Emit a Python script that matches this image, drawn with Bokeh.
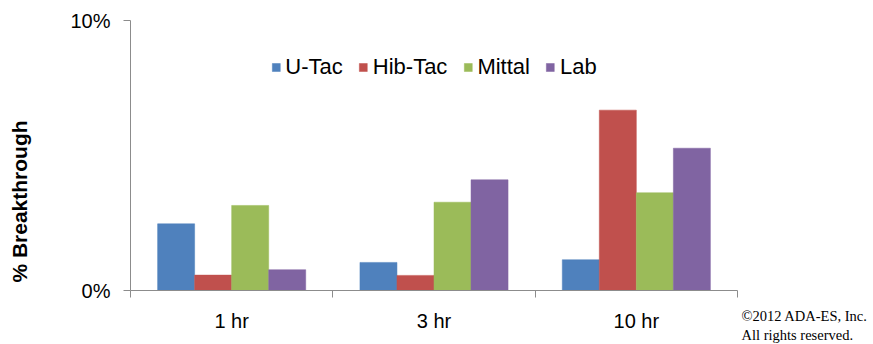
import math
from bokeh.plotting import figure
from bokeh.models import Range1d, FixedTicker, Label, ColumnDataSource
from bokeh.transform import dodge
from bokeh.embed import file_html
from bokeh.resources import INLINE

categories = ["1 hr", "3 hr", "10 hr"]
series = ["U-Tac", "Hib-Tac", "Mittal", "Lab"]
u_tac = [2.47, 1.04, 1.14]
hib_tac = [0.57, 0.56, 6.68]
mittal = [3.15, 3.27, 3.62]
lab = [0.77, 4.10, 5.27]
colors = ["#4F81BD", "#C0504D", "#9BBB59", "#8064A2"]
y_ticks = [0, 10]
y_tick_labels = ["0%", "10%"]

xs = [i + 0.5 for i in range(len(categories))]
source = ColumnDataSource(dict(x=xs, u_tac=u_tac, hib_tac=hib_tac, mittal=mittal, lab=lab))
cols = ["u_tac", "hib_tac", "mittal", "lab"]

GREY = "#8C8C8C"
FONT = "Liberation Sans"

p = figure(width=873, height=344, output_backend="svg", toolbar_location=None,
           x_range=Range1d(0, len(categories)), y_range=Range1d(0, 10),
           min_border_left=130, min_border_right=136, min_border_top=20, min_border_bottom=54)
p.outline_line_color = None
p.background_fill_color = "white"

bw = 0.183
offsets = [-1.5 * bw, -0.5 * bw, 0.5 * bw, 1.5 * bw]
for col, name, c, off in zip(cols, series, colors, offsets):
    p.vbar(x=dodge("x", off), top=col, width=bw, source=source,
           fill_color=c, line_color=c, line_width=0.5, legend_label=name)

# x axis
p.xaxis.ticker = FixedTicker(ticks=xs, minor_ticks=list(range(len(categories) + 1)))
p.xaxis.major_label_overrides = {x: c for x, c in zip(xs, categories)}
p.xaxis.major_tick_out = 0
p.xaxis.major_tick_in = 0
p.xaxis.minor_tick_out = 7
p.xaxis.minor_tick_in = 0
p.xaxis.minor_tick_line_color = GREY
p.xaxis.axis_line_color = GREY
p.xaxis.major_label_text_font = FONT
p.xaxis.major_label_text_font_size = "20px"
p.xaxis.major_label_text_color = "black"
p.xaxis.major_label_standoff = 12

# y axis
p.yaxis.ticker = FixedTicker(ticks=y_ticks, minor_ticks=[])
p.yaxis.major_label_overrides = {t: l for t, l in zip(y_ticks, y_tick_labels)}
p.yaxis.major_tick_out = 7
p.yaxis.major_tick_in = 0
p.yaxis.major_tick_line_color = GREY
p.yaxis.axis_line_color = GREY
p.yaxis.major_label_text_font = FONT
p.yaxis.major_label_text_font_size = "20px"
p.yaxis.major_label_text_color = "black"
p.yaxis.major_label_standoff = 13

p.xgrid.grid_line_color = None
p.ygrid.ticker = FixedTicker(ticks=y_ticks)
p.ygrid.grid_line_color = GREY

# legend
lg = p.legend[0]
lg.orientation = "horizontal"
lg.location = "top_center"
lg.label_text_font = FONT
lg.label_text_font_size = "22px"
lg.label_text_color = "black"
lg.glyph_width = 10
lg.glyph_height = 10
lg.label_standoff = 5
lg.spacing = 15
lg.padding = 0
lg.margin = 34
lg.border_line_color = None
lg.background_fill_alpha = 0

# y-axis title (in a side panel so it is not clipped to the frame)
p.add_layout(Label(x=-25, y=89, x_units="screen", y_units="screen",
                   text="% Breakthrough", angle=math.pi / 2,
                   text_align="center", text_baseline="middle", text_font=FONT,
                   text_font_style="bold", text_font_size="21px", text_color="black"), "left")

# copyright
p.add_layout(Label(x=4, y=-35, x_units="screen", y_units="screen",
                   text="\u00a92012 ADA-ES, Inc.\nAll rights reserved.", text_font="Liberation Serif",
                   text_font_size="14.5px", text_baseline="middle", text_color="black"), "right")

open("out.html", "w").write(file_html(p, INLINE))
